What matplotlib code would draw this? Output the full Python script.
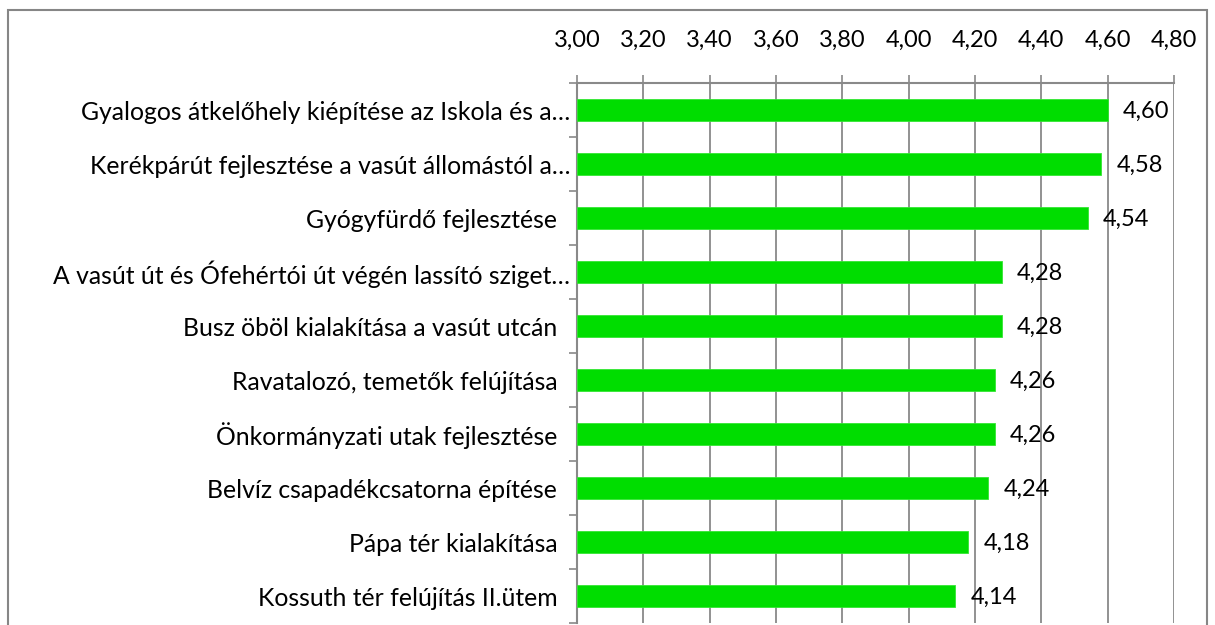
import matplotlib.pyplot as plt
from matplotlib.patches import Rectangle

# data (top to bottom)
categories = [
    "Gyalogos átkelőhely kiépítése az Iskola és a…",
    "Kerékpárút fejlesztése a vasút állomástól a…",
    "Gyógyfürdő fejlesztése  ",
    "A vasút út és Ófehértói út végén lassító sziget…",
    "Busz öböl kialakítása a vasút utcán  ",
    "Ravatalozó, temetők felújítása  ",
    "Önkormányzati utak fejlesztése  ",
    "Belvíz csapadékcsatorna építése  ",
    "Pápa tér kialakítása  ",
    "Kossuth tér felújítás II.ütem  ",
]
values = [4.60, 4.58, 4.54, 4.28, 4.28, 4.26, 4.26, 4.24, 4.18, 4.14]
ticks = [3.0, 3.2, 3.4, 3.6, 3.8, 4.0, 4.2, 4.4, 4.6, 4.8]

plt.rcParams['font.family'] = ['Lato', 'DejaVu Sans']
FS = 17

W, H = 1215, 625
fig = plt.figure(figsize=(W / 100, H / 100), dpi=100)
ax = fig.add_axes([577 / W, 1 - 623 / H, (1174 - 577) / W, (623 - 83) / H])

grey = '#898989'
ypos = list(range(len(categories)))
ax.barh(ypos, [v - 3.0 for v in values], left=3.0, height=0.41,
        color='#00dd00', edgecolor='#33e633', linewidth=0.6, zorder=3)

for y, v in zip(ypos, values):
    ax.annotate(f"{v:.2f}".replace('.', ','), (v, y), xytext=(11, -1),
                textcoords='offset points', va='center', ha='left',
                fontsize=FS, color='black', zorder=4)

ax.set_xlim(3.0, 4.8)
ax.set_ylim(len(categories) - 0.5, -0.5)
ax.set_xticks(ticks)
ax.set_xticklabels([f"{t:.2f}".replace('.', ',') for t in ticks])
ax.xaxis.tick_top()
ax.set_yticks([i - 0.5 for i in range(len(categories) + 1)], minor=False)
ax.set_yticklabels([])
ax.set_yticks(ypos, minor=True)
ax.set_yticklabels(categories, minor=True)
ax.tick_params(axis='y', which='major', direction='out', length=6, width=1.2, color=grey)
ax.tick_params(axis='y', which='minor', length=0, pad=5, labelsize=17.8)
ax.tick_params(axis='x', direction='out', length=6, width=1.2, color=grey,
               pad=17, labelsize=FS)

ax.grid(axis='x', color=grey, linewidth=1.3, zorder=0)
for side in ['right', 'bottom']:
    ax.spines[side].set_visible(False)
for side in ['left', 'top']:
    ax.spines[side].set_color(grey)
    ax.spines[side].set_linewidth(1.5)

# outer chart frame
fig.patches.append(Rectangle((8 / W, -0.1), (1207 - 8) / W, 1.1 - 10 / H,
                             transform=fig.transFigure, fill=False,
                             edgecolor='#868686', linewidth=1.5))

fig.savefig('out.png', dpi=100)
